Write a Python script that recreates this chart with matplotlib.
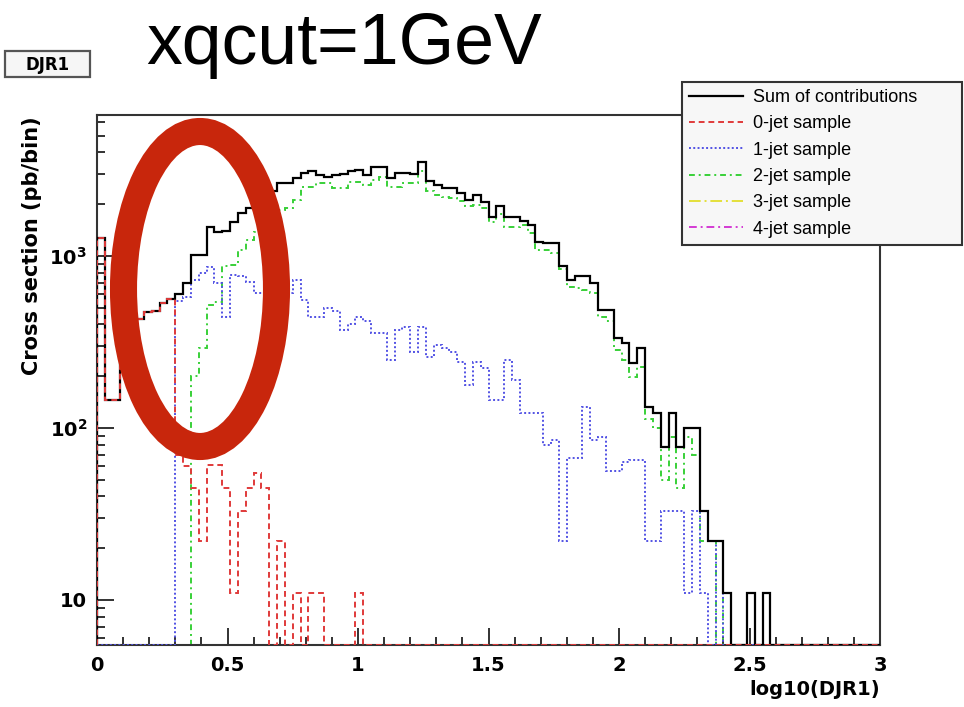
import numpy as np
import matplotlib
matplotlib.use("Agg")
import matplotlib.pyplot as plt
from matplotlib.lines import Line2D
from matplotlib.patches import Ellipse, Rectangle
from matplotlib.ticker import FixedLocator, MultipleLocator, LogLocator, NullFormatter

# 100 bins of 0.03 in log10(DJR1)
bin_edges = np.linspace(0.0, 3.0, 101)

sum_contrib = [1270, 145, 145, 380, 400, 430, 470, 480, 530, 560,
               600, 700, 1010, 1010, 1480, 1380, 1400, 1580, 1780, 1900,
               1900, 1950, 2400, 2650, 2650, 2840, 3050, 3100, 2960, 2890,
               2960, 3000, 3130, 3150, 2950, 3300, 3300, 2840, 3050, 3050,
               3000, 3540, 2710, 2590, 2480, 2480, 2320, 2120, 2260, 2070,
               1690, 1950, 1690, 1690, 1600, 1510, 1210, 1185, 1185, 870,
               725, 760, 760, 695, 485, 485, 333, 312, 238, 292,
               133, 122, 78, 122, 78, 100, 100, 33, 22, 22,
               11, 0, 0, 11, 0, 11, 0, 0, 0, 0,
               0, 0, 0, 0, 0, 0, 0, 0, 0, 0]

zero_jet = [1270, 145, 145, 380, 400, 430, 470, 480, 530, 560,
            70, 60, 45, 22, 61, 61, 45, 11, 33, 45,
            55, 45, 0, 22, 0, 11, 0, 11, 11, 0,
            0, 0, 0, 11, 0, 0, 0, 0, 0, 0] + [0] * 60

one_jet = [0, 0, 0, 0, 0, 0, 0, 0, 0, 0,
           550, 580, 725, 795, 866, 700, 444, 775, 760, 710,
           610, 610, 600, 610, 610, 725, 555, 444, 444, 500,
           480, 372, 400, 444, 420, 356, 356, 248, 372, 388,
           277, 388, 260, 304, 290, 277, 243, 178, 243, 223,
           145, 145, 248, 190, 122, 122, 122, 80, 85, 22,
           67, 67, 133, 85, 89, 56, 56, 63, 65, 65,
           22, 22, 33, 33, 33, 11, 33, 11, 0, 22,
           0, 0, 0, 0, 0, 11, 0, 0, 0, 0,
           0, 0, 0, 0, 0, 0, 0, 0, 0, 0]

two_jet = [0, 0, 0, 0, 0, 0, 0, 0, 0, 0,
           0, 0, 200, 290, 518, 543, 870, 890, 1080, 1240,
           1380, 1450, 1660, 1850, 1900, 2120, 2530, 2530, 2650, 2650,
           2480, 2480, 2700, 2700, 2590, 2750, 2890, 2530, 2530, 2650,
           2650, 3100, 2400, 2260, 2200, 2170, 2080, 1940, 1980, 1900,
           1580, 1750, 1480, 1480, 1510, 1360, 1080, 1080, 1040, 840,
           660, 650, 635, 610, 444, 420, 284, 250, 199, 225,
           112, 100, 50, 89, 45, 89, 70, 22, 22, 0,
           11, 0, 0, 11, 0, 0, 0, 0, 0, 0,
           0, 0, 0, 0, 0, 0, 0, 0, 0, 0]

three_jet = [0] * 100
four_jet = [0] * 100

series_labels = ["Sum of contributions", "0-jet sample", "1-jet sample",
                 "2-jet sample", "3-jet sample", "4-jet sample"]

xtick_vals = [0, 0.5, 1, 1.5, 2, 2.5, 3]
xtick_labels = ["0", "0.5", "1", "1.5", "2", "2.5", "3"]
ytick_vals = [10, 100, 1000]
ytick_labels = ["10", r"$\mathbf{10^{2}}$", r"$\mathbf{10^{3}}$"]

y_bottom, y_top = 5.47, 6600

W, H = 964, 707
fig = plt.figure(figsize=(W / 100, H / 100), dpi=100)
ax = fig.add_axes([97 / W, 1 - 645 / H, (880 - 97) / W, (645 - 115) / H])

styles = [
    # values, color, linestyle, zorder
    (sum_contrib, "black", "-", 4),
    (zero_jet, "#e03a3a", (0, (3, 2)), 5),
    (one_jet, "#5252e4", (0, (1, 1.2)), 3),
    (two_jet, "#38d038", (0, (3, 2, 1, 2)), 2),
    (three_jet, "#e4e03a", (0, (6, 2, 1, 2)), 1),
    (four_jet, "#d43ad4", (0, (4, 2, 1, 2)), 1),
]

handles = []
for vals, col, ls, z in styles:
    v = np.maximum(np.asarray(vals, dtype=float), y_bottom)
    lw = 1.6 if col == "black" else 1.4
    ax.stairs(v, bin_edges, baseline=y_bottom, color=col, linestyle=ls,
              linewidth=lw, zorder=z)
    handles.append(Line2D([], [], color=col, linestyle=ls, linewidth=lw))

ax.set_yscale("log")
ax.set_xlim(0, 3)
ax.set_ylim(y_bottom, y_top)

ax.xaxis.set_major_locator(FixedLocator(xtick_vals))
ax.set_xticklabels(xtick_labels)
ax.xaxis.set_minor_locator(MultipleLocator(0.1))
ax.yaxis.set_major_locator(FixedLocator(ytick_vals))
ax.set_yticklabels(ytick_labels)
ax.yaxis.set_minor_locator(LogLocator(base=10, subs=range(2, 10)))
ax.yaxis.set_minor_formatter(NullFormatter())

ax.tick_params(which="both", direction="in", top=False, right=False,
               color="#222222", width=1.3)
ax.tick_params(which="major", length=12)
ax.tick_params(which="minor", length=6)
ax.tick_params(axis="x", which="major", pad=8)
ax.tick_params(axis="y", which="major", pad=7)
for lab in ax.get_xticklabels() + ax.get_yticklabels():
    lab.set_fontfamily("DejaVu Sans")
    lab.set_fontweight("bold")
    lab.set_fontsize(14)

for sp in ax.spines.values():
    sp.set_color("#333333")
    sp.set_linewidth(1.5)

leg = ax.legend(handles, series_labels, loc="upper left",
                bbox_to_anchor=(682 / W, 1 - 82 / H, 280 / W, 0.0),
                bbox_transform=fig.transFigure, mode="expand",
                borderaxespad=0, labelspacing=0.52,
                handlelength=3.0, handletextpad=0.55, borderpad=0.38,
                fancybox=False, framealpha=1, facecolor="#f7f7f7",
                edgecolor="#333333", prop={"family": "Liberation Sans", "size": 13})
leg.get_frame().set_linewidth(1.5)
leg.set_zorder(20)

# overlay in pixel coordinates for title, labels and the hand-drawn ellipse
ov = fig.add_axes([0, 0, 1, 1], zorder=10)
ov.set_xlim(0, W)
ov.set_ylim(H, 0)
ov.axis("off")
ov.patch.set_alpha(0)

ov.text(146, 64, "xqcut=1GeV", fontsize=51.5, family="Liberation Sans",
        ha="left", va="baseline")
ov.add_patch(Rectangle((5, 51), 85, 26, facecolor="#f6f6f6",
                       edgecolor="#555555", linewidth=1.6))
ov.text(47.5, 64.5, "DJR1", fontsize=12, family="DejaVu Sans",
        fontweight="bold", ha="center", va="center")
ov.text(32, 116, "Cross section (pb/bin)", rotation=90, fontsize=15,
        family="DejaVu Sans", fontweight="bold", ha="center", va="top")
ov.text(880, 695, "log10(DJR1)", fontsize=14, family="DejaVu Sans",
        fontweight="bold", ha="right", va="baseline")

ov.add_patch(Ellipse((200, 289), 153, 315, fill=False,
                     edgecolor="#c8260c", linewidth=19.5))

fig.savefig("out.png", dpi=100)
